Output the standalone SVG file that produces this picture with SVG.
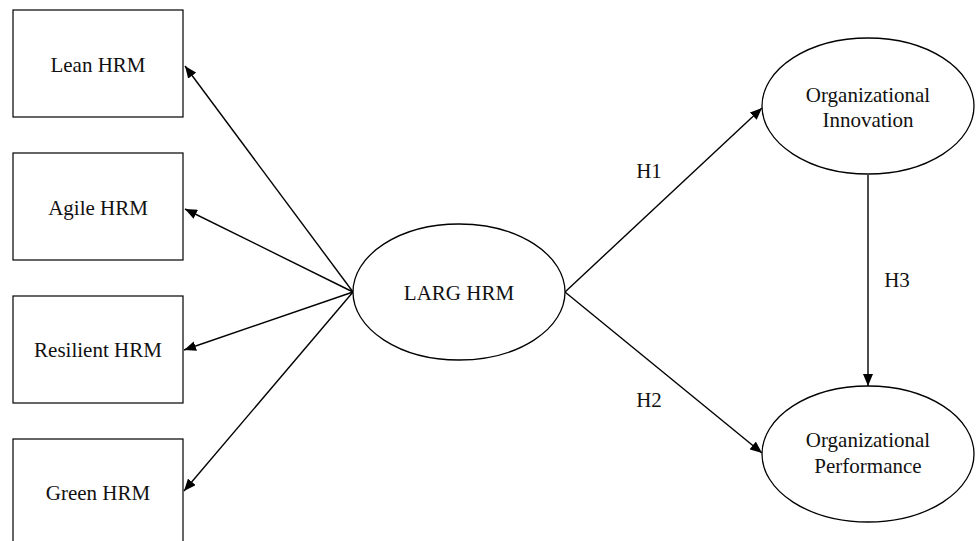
<svg xmlns="http://www.w3.org/2000/svg" width="976" height="541" viewBox="0 0 976 541">
  <style>
    .box { fill: #ffffff; stroke: #000000; stroke-width: 1.2; }
    .oval { fill: #ffffff; stroke: #000000; stroke-width: 1.3; }
    .lbl { font-family: "Liberation Serif", "Times New Roman", serif; font-size: 21px; fill: #111111; text-anchor: middle; }
    .edge { stroke: #000000; stroke-width: 1.4; fill: none; marker-end: url(#arrow); }
  </style>
  <defs>
    <marker id="arrow" viewBox="0 0 12 10" refX="12" refY="5" markerWidth="12" markerHeight="10" markerUnits="userSpaceOnUse" orient="auto">
      <path d="M0,0 L12,5 L0,10 Z" fill="#000000"/>
    </marker>
  </defs>
  <rect width="976" height="541" fill="#ffffff"/>

  <g id="connectors">
    <line class="edge" x1="353" y1="292" x2="185" y2="66"/>
    <line class="edge" x1="353" y1="292" x2="185" y2="209"/>
    <line class="edge" x1="353" y1="292" x2="184" y2="350"/>
    <line class="edge" x1="353" y1="292" x2="184" y2="491"/>
    <line class="edge" x1="565" y1="292" x2="762" y2="108"/>
    <line class="edge" x1="565" y1="292" x2="762" y2="453"/>
    <line class="edge" x1="868" y1="175" x2="868" y2="386"/>
    <text class="lbl" x="649" y="178">H1</text>
    <text class="lbl" x="649" y="407">H2</text>
    <text class="lbl" x="897" y="287">H3</text>
  </g>

  <g id="lean-hrm">
    <rect class="box" x="13" y="10" width="170" height="107"/>
    <text class="lbl" x="98" y="72">Lean HRM</text>
  </g>
  <g id="agile-hrm">
    <rect class="box" x="13" y="153" width="170" height="107"/>
    <text class="lbl" x="98" y="215">Agile HRM</text>
  </g>
  <g id="resilient-hrm">
    <rect class="box" x="13" y="296" width="170" height="107"/>
    <text class="lbl" x="98" y="357">Resilient HRM</text>
  </g>
  <g id="green-hrm">
    <rect class="box" x="13" y="439" width="170" height="107"/>
    <text class="lbl" x="98" y="500">Green HRM</text>
  </g>

  <g id="larg-hrm">
    <ellipse class="oval" cx="459" cy="292" rx="106" ry="68"/>
    <text class="lbl" x="459" y="300">LARG HRM</text>
  </g>
  <g id="org-innovation">
    <ellipse class="oval" cx="868" cy="106" rx="106" ry="68"/>
    <text class="lbl" x="868" y="102">Organizational</text>
    <text class="lbl" x="868" y="127">Innovation</text>
  </g>
  <g id="org-performance">
    <ellipse class="oval" cx="868" cy="454" rx="106" ry="68"/>
    <text class="lbl" x="868" y="447">Organizational</text>
    <text class="lbl" x="868" y="473">Performance</text>
  </g>
</svg>
